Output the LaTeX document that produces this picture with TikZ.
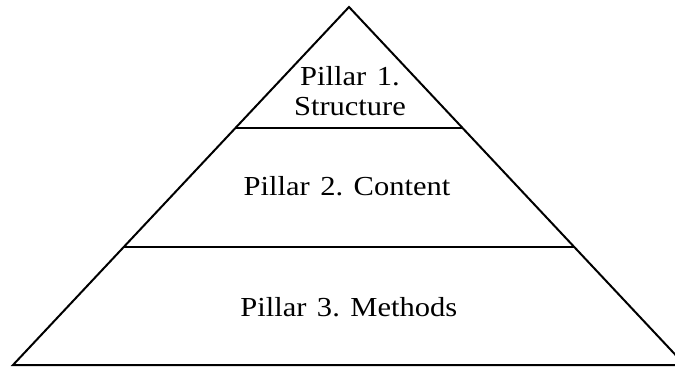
\documentclass[tikz,border=0pt]{standalone}
\usepackage{fontspec}
\setmainfont[FakeStretch=1.11]{Liberation Serif}
\usetikzlibrary{calc}
\newcommand\pillarfont{\fontsize{27.5}{30}\selectfont\frenchspacing\spaceskip 10.5pt plus 0pt minus 0pt\relax}
\tikzset{
  edge/.style={line width=2pt, line join=miter, black},
  pillartext/.style={font=\pillarfont, inner sep=0pt, anchor=base, align=center}
}
\begin{document}
\begin{tikzpicture}[x=1pt,y=-1pt]
\useasboundingbox[fill=white] (0,0) rectangle (675,367);
\coordinate (A) at (349,7);
\coordinate (L) at (13,365);
\coordinate (R) at (685,365);
\coordinate (L1) at ($(L)!0.662!(A)$);
\coordinate (R1) at ($(R)!0.662!(A)$);
\coordinate (L2) at ($(L)!0.331!(A)$);
\coordinate (R2) at ($(R)!0.331!(A)$);
\draw[edge] (A) -- (L) -- (R) -- cycle;
\draw[edge] (L1) -- (R1);
\draw[edge] (L2) -- (R2);
\node[pillartext] (p1) at (350,115) {Pillar 1.\\Structure};
\node[pillartext] (p2) at (347,195) {Pillar 2. Content};
\node[pillartext] (p3) at (348.8,316) {Pillar 3. Methods};
\end{tikzpicture}
\end{document}
